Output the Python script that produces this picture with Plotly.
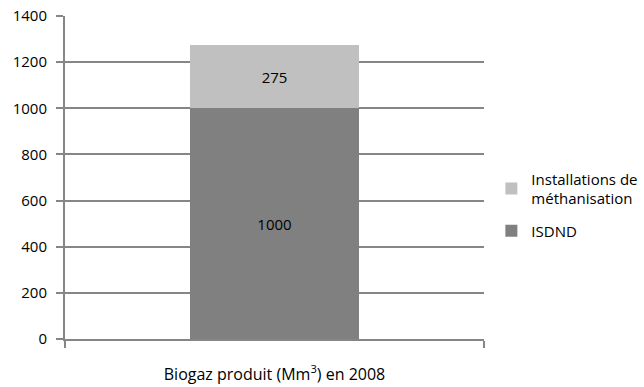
import plotly.graph_objects as go

# Biogas production in 2008 (Mm3), stacked by source
categories = ["Biogaz produit (Mm<sup>3</sup>) en 2008"]
isdnd = [1000]
methanisation = [275]
series_names = ["ISDND", "Installations de<br>méthanisation"]
y_ticks = [0, 200, 400, 600, 800, 1000, 1200, 1400]

FONT = "Open Sans"
GRID = "#868686"

fig = go.Figure()
fig.add_trace(go.Bar(
    x=categories, y=isdnd, name=series_names[0],
    marker=dict(color="#808080", line=dict(width=0)),
    text=[str(v) for v in isdnd], textposition="inside",
    insidetextanchor="middle", textfont=dict(color="#000000", size=15, family=FONT),
    width=0.403, legendgroup="a", legendrank=2,
))
fig.add_trace(go.Bar(
    x=categories, y=methanisation, name=series_names[1],
    marker=dict(color="#c0c0c0", line=dict(width=0)),
    text=[str(v) for v in methanisation], textposition="inside",
    insidetextanchor="middle", textfont=dict(color="#000000", size=15, family=FONT),
    width=0.403, legendgroup="b", legendrank=1,
))

fig.update_layout(
    width=644, height=387,
    margin=dict(l=65, r=160, t=16, b=48, autoexpand=False),
    barmode="stack",
    paper_bgcolor="white", plot_bgcolor="white",
    font=dict(family=FONT, size=15, color="#000000"),
    uniformtext=dict(minsize=8, mode="show"),
    legend=dict(
        xref="container", yref="container",
        x=0.763, y=0.47, xanchor="left", yanchor="middle",
        traceorder="grouped", tracegroupgap=10,
        font=dict(family=FONT, size=15, color="#000000"),
        bgcolor="rgba(0,0,0,0)", borderwidth=0,
    ),
    xaxis=dict(
        type="category", range=[-0.5, 0.5], automargin=False,
        showline=True, linecolor=GRID, linewidth=2,
        ticks="outside", tickson="boundaries", ticklen=7, tickcolor=GRID, tickwidth=2,
        showgrid=False, ticklabelstandoff=20,
        tickfont=dict(family=FONT, size=16),
    ),
    yaxis=dict(
        range=[0, 1400], tickvals=y_ticks, automargin=False,
        showline=True, linecolor=GRID, linewidth=2,
        ticks="outside", ticklen=7, tickcolor=GRID, tickwidth=2,
        showgrid=True, gridcolor=GRID, gridwidth=2,
        zeroline=False, ticklabelstandoff=6,
        tickfont=dict(family=FONT, size=15),
    ),
)

fig.write_html("out.html")
